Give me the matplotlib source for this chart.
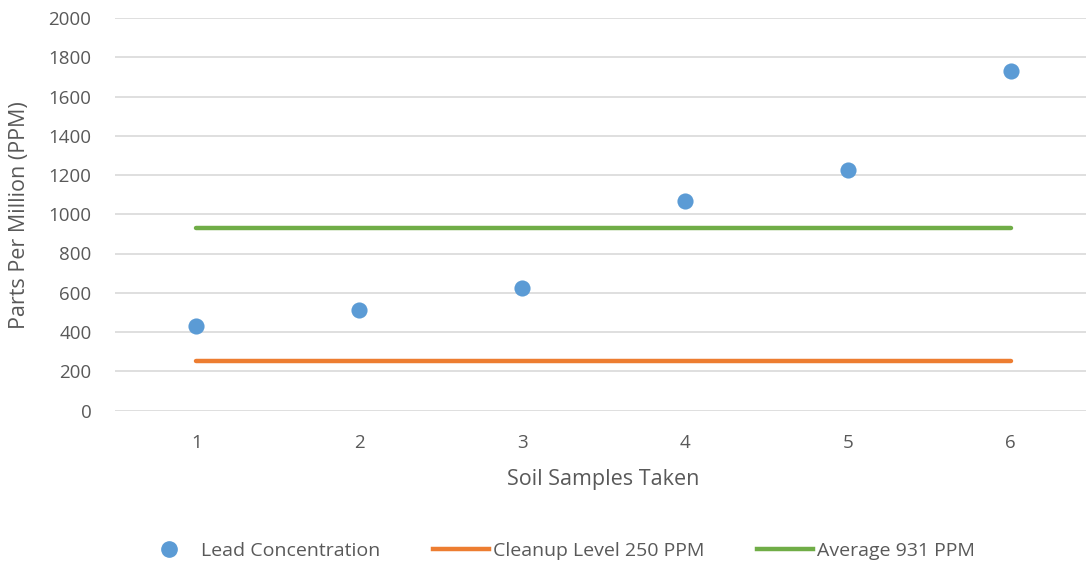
import matplotlib.pyplot as plt
from matplotlib.lines import Line2D

samples = [1, 2, 3, 4, 5, 6]
lead = [430, 510, 625, 1065, 1225, 1731]
cleanup = [250] * 6
average = [931] * 6

blue = '#5B9BD5'
orange = '#ED7D31'
green = '#70AD47'
txt = '#595959'

plt.rcParams['font.family'] = ['Open Sans', 'DejaVu Sans']

fig = plt.figure(figsize=(10.86, 5.69), dpi=100)
ax = fig.add_axes([115 / 1086, 158.5 / 569, 977 / 1086, 392.5 / 569])

ax.plot(samples, cleanup, color=orange, lw=3.2, solid_capstyle='round', zorder=2)
ax.plot(samples, average, color=green, lw=3.2, solid_capstyle='round', zorder=2)
ax.scatter(samples, lead, s=135, color=blue, zorder=3, linewidths=0)

ax.set_xlim(0.5, 6.5)
ax.set_ylim(0, 2000)
ax.set_yticks(range(0, 2001, 200))
ax.set_xticks(samples)
ax.grid(axis='y', color='#D9D9D9', lw=1.2)
ax.set_axisbelow(True)
for s in ax.spines.values():
    s.set_visible(False)
ax.tick_params(length=0, labelsize=13.5, colors=txt)
ax.tick_params(axis='y', pad=17)
ax.tick_params(axis='x', pad=17)

ax.set_xlabel('Soil Samples Taken', fontsize=15.5, color=txt, labelpad=12)
fig.text(20 / 1086, 1 - 215 / 569, 'Parts Per Million (PPM)', rotation=90,
         fontsize=15.5, color=txt, ha='center', va='center')

handles = [
    Line2D([], [], ls='none', marker='o', ms=11, color=blue, mec=blue),
    Line2D([], [], color=orange, lw=3.2),
    Line2D([], [], color=green, lw=3.2),
]
labels = ['Lead Concentration', 'Cleanup Level 250 PPM', 'Average 931 PPM']
fig.legend(handles, labels, loc='center', bbox_to_anchor=(558 / 1086, 1 - 551 / 569),
           ncol=3, frameon=False, fontsize=14, labelcolor=txt,
           handlelength=2.9, handletextpad=0.2, columnspacing=2.7)

fig.savefig('out.png', dpi=100)
